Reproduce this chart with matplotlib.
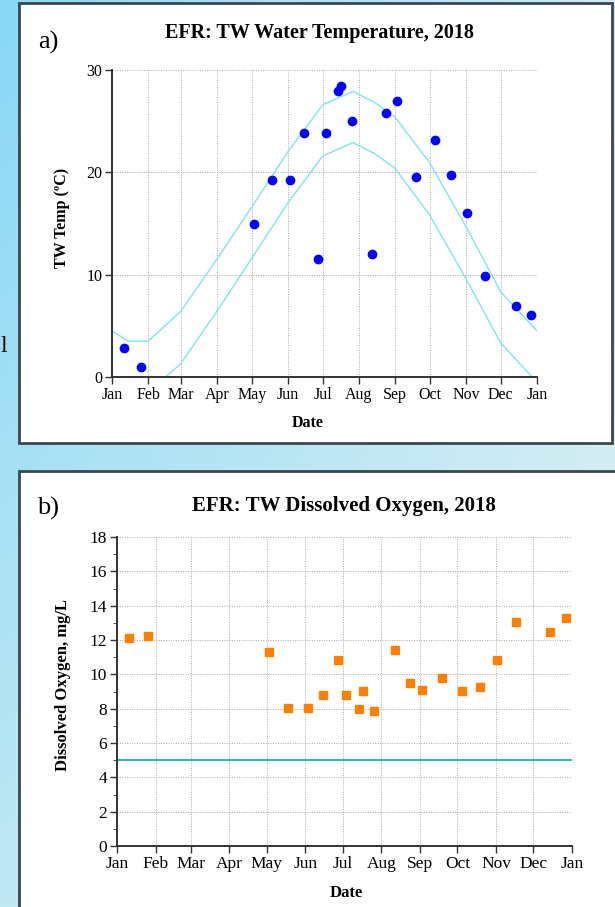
import numpy as np
import pandas as pd
import matplotlib
matplotlib.use("Agg")
import matplotlib.pyplot as plt
import matplotlib.dates as mdates
from matplotlib.patches import Rectangle

plt.rcParams['font.family'] = ['Liberation Serif', 'DejaVu Serif']

# Sampling dates (shared by both panels)
sample_dates = pd.to_datetime([
    '2018-01-11', '2018-01-26', '2018-05-03', '2018-05-18', '2018-06-03',
    '2018-06-15', '2018-06-27', '2018-07-04', '2018-07-14', '2018-07-17',
    '2018-07-26', '2018-08-12', '2018-08-24', '2018-09-03', '2018-09-19',
    '2018-10-05', '2018-10-19', '2018-11-02', '2018-11-17', '2018-12-14',
    '2018-12-27'])

water_temp = [2.8, 1.0, 14.95, 19.25, 19.25, 23.87, 11.5, 23.87, 27.9, 28.4,
              25.0, 12.0, 25.8, 27.0, 19.5, 23.2, 19.7, 16.05, 9.85, 6.94, 6.06]

diss_oxygen = [12.1, 12.26, 11.29, 8.02, 8.06, 8.8, 10.86, 8.8, 8.0, 9.01,
               7.84, 11.44, 9.52, 9.09, 9.77, 9.05, 9.25, 10.86, 13.06, 12.44, 13.29]

# Temperature envelope (upper / lower curves)
band_dates = pd.to_datetime([
    '2018-01-01', '2018-01-15', '2018-02-01', '2018-03-01', '2018-04-01',
    '2018-05-01', '2018-06-01', '2018-07-01', '2018-07-27', '2018-08-15',
    '2018-09-01', '2018-10-01', '2018-11-01', '2018-12-01', '2019-01-01'])
band_upper = [4.5, 3.5, 3.5, 6.4, 11.5, 16.6, 22.0, 26.6, 27.9, 26.8,
              25.4, 20.9, 14.7, 8.3, 4.5]
band_lower = [-0.5, -1.5, -1.5, 1.3, 6.4, 11.6, 17.0, 21.6, 22.9, 21.8,
              20.4, 15.8, 9.6, 3.3, -0.5]

do_standard = 5

W, H = 615, 907
fig = plt.figure(figsize=(W / 100, H / 100), dpi=100)


def fx(x):
    return x / W


def fy(y):
    return 1 - y / H


# gradient background
bg = fig.add_axes([0, 0, 1, 1], zorder=-10)
tl = np.array([136, 216, 247]) / 255
tr = np.array([205, 236, 244]) / 255
bl = np.array([192, 232, 243]) / 255
br = np.array([218, 239, 242]) / 255
u = np.linspace(0, 1, 200)[None, :, None]
v = np.linspace(0, 1, 300)[:, None, None]
grad = (1 - v) * ((1 - u) * tl + u * tr) + v * ((1 - u) * bl + u * br)
bg.imshow(grad, aspect='auto', extent=[0, 1, 0, 1], origin='upper')
bg.set_xlim(0, 1)
bg.set_ylim(0, 1)
bg.axis('off')

# white panels
for (x0, y0, x1, y1) in [(19, 3, 612, 443), (19, 471, 640, 940)]:
    fig.patches.append(Rectangle((fx(x0), fy(y1)), fx(x1 - x0), (y1 - y0) / H,
                                 transform=fig.transFigure, facecolor='white',
                                 edgecolor='#3b474c', linewidth=2, zorder=-5))

# bit of slide text peeking out at the left edge
fig.text(fx(0), fy(347), 'l', fontsize=17, ha='left', va='center')


def style_axes(ax):
    for s in ['top', 'right']:
        ax.spines[s].set_visible(False)
    for s in ['left', 'bottom']:
        ax.spines[s].set_color('#333333')
        ax.spines[s].set_linewidth(1.4)
    ax.xaxis.set_major_locator(mdates.MonthLocator())
    ax.xaxis.set_major_formatter(mdates.DateFormatter('%b'))
    ax.set_xlim(pd.Timestamp('2018-01-01'), pd.Timestamp('2019-01-01'))
    ax.tick_params(direction='out', length=5, width=1, color='#333333',
                   labelsize=11.5, pad=2)
    ax.grid(True, color='#a8a8a8', linestyle=(0, (1, 1.5)), linewidth=0.7)
    ax.set_axisbelow(True)


# ---- panel a: water temperature
ax1 = fig.add_axes([fx(112), fy(377), fx(425), 307 / H])
style_axes(ax1)
ax1.plot(band_dates, band_upper, color='#80e6e6', linewidth=1)
ax1.plot(band_dates, band_lower, color='#80e6e6', linewidth=1)
ax1.plot(sample_dates, water_temp, 'o', color='#0000ff', markersize=6, clip_on=False)
ax1.set_ylim(0, 30)
ax1.set_yticks([0, 10, 20, 30])

fig.text(fx(319), fy(33), 'EFR: TW Water Temperature, 2018', fontsize=14.5,
         fontweight='bold', ha='center', va='center')
fig.text(fx(38), fy(42), 'a)', fontsize=19, ha='left', va='center')
fig.text(fx(62), fy(218), 'TW Temp (ºC)', fontsize=11.5, fontweight='bold',
         rotation=90, ha='center', va='center')
fig.text(fx(308), fy(423), 'Date', fontsize=11.5, fontweight='bold',
         ha='center', va='center')

# ---- panel b: dissolved oxygen
ax2 = fig.add_axes([fx(117), fy(846), fx(455), 309 / H])
style_axes(ax2)
ax2.axhline(do_standard, color='#2bb3b3', linewidth=1.4)
ax2.plot(sample_dates, diss_oxygen, 's', color='#ff8000', markersize=5.5)
ax2.set_ylim(0, 18)
ax2.set_yticks(range(0, 19, 2))
ax2.set_yticks(range(1, 18, 2), minor=True)
ax2.tick_params(axis='y', which='minor', direction='out', length=3,
                color='#333333')
ax2.tick_params(labelsize=12.5)

fig.text(fx(344), fy(506), 'EFR: TW Dissolved Oxygen, 2018', fontsize=15,
         fontweight='bold', ha='center', va='center')
fig.text(fx(37), fy(508), 'b)', fontsize=19, ha='left', va='center')
fig.text(fx(63), fy(685), 'Dissolved Oxygen, mg/L', fontsize=12,
         fontweight='bold', rotation=90, ha='center', va='center')
fig.text(fx(346), fy(893), 'Date', fontsize=12, fontweight='bold',
         ha='center', va='center')

fig.savefig('out.png', dpi=100)
